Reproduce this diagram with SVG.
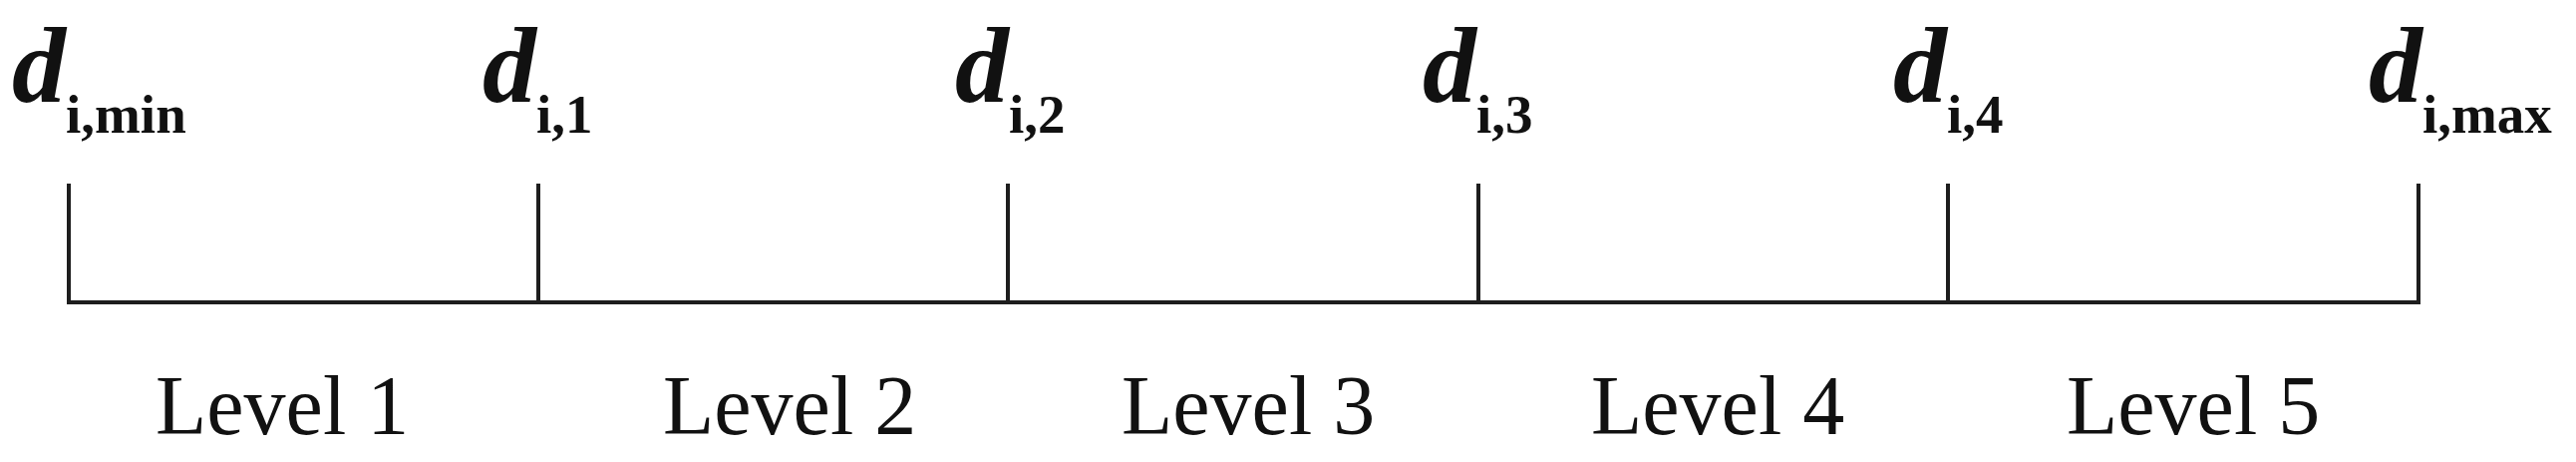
<svg xmlns="http://www.w3.org/2000/svg" width="2584" height="463" viewBox="0 0 2584 463">
<style>
.ln{stroke:#1e1e1e;stroke-width:4;fill:none;stroke-linecap:square}
.d{font-family:"Liberation Serif","Times New Roman",serif;font-weight:bold;font-style:italic;font-size:108px;fill:#111}
.sub{font-style:normal;font-size:55px}
.lv{font-family:"Liberation Serif","Times New Roman",serif;font-size:84px;fill:#111}
</style>
<rect width="2584" height="463" fill="#fff"/>
<g id="connectors">
<line class="ln" x1="69" y1="303" x2="2426" y2="303"/>
<line class="ln" x1="69" y1="186" x2="69" y2="303"/>
<line class="ln" x1="540" y1="186" x2="540" y2="303"/>
<line class="ln" x1="1011" y1="186" x2="1011" y2="303"/>
<line class="ln" x1="1483" y1="186" x2="1483" y2="303"/>
<line class="ln" x1="1954" y1="186" x2="1954" y2="303"/>
<line class="ln" x1="2426" y1="186" x2="2426" y2="303"/>
</g>
<g id="tick-min"><text class="d" x="12" y="102">d<tspan class="sub" dy="31">i,min</tspan></text></g>
<g id="tick-1"><text class="d" x="484" y="102">d<tspan class="sub" dy="31">i,1</tspan></text></g>
<g id="tick-2"><text class="d" x="958" y="102">d<tspan class="sub" dy="31">i,2</tspan></text></g>
<g id="tick-3"><text class="d" x="1427" y="102">d<tspan class="sub" dy="31">i,3</tspan></text></g>
<g id="tick-4"><text class="d" x="1899" y="102">d<tspan class="sub" dy="31">i,4</tspan></text></g>
<g id="tick-max"><text class="d" x="2376" y="102">d<tspan class="sub" dy="31">i,max</tspan></text></g>
<g id="level-1"><text class="lv" x="156" y="435">Level 1</text></g>
<g id="level-2"><text class="lv" x="665" y="435">Level 2</text></g>
<g id="level-3"><text class="lv" x="1125" y="435">Level 3</text></g>
<g id="level-4"><text class="lv" x="1596" y="435">Level 4</text></g>
<g id="level-5"><text class="lv" x="2073" y="435">Level 5</text></g>
</svg>
